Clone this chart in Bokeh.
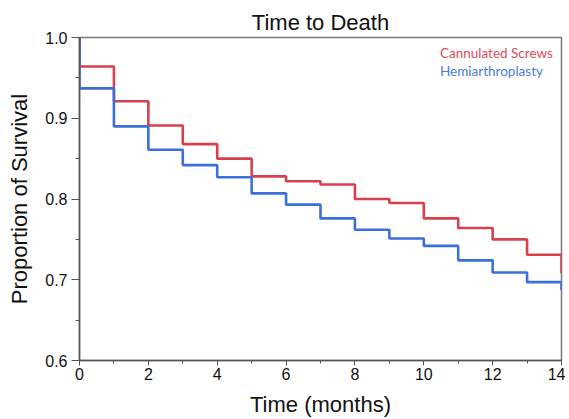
from bokeh.plotting import figure
from bokeh.models import Range1d, SingleIntervalTicker, PrintfTickFormatter, Label
from bokeh.embed import file_html
from bokeh.resources import INLINE

months = [0, 0, 1, 2, 3, 4, 5, 6, 7, 8, 9, 10, 11, 12, 13, 14]
screws = [1.0, 0.964, 0.921, 0.891, 0.868, 0.850, 0.828, 0.822, 0.818, 0.800, 0.795, 0.776, 0.764, 0.750, 0.731, 0.708]
hemi = [1.0, 0.937, 0.890, 0.861, 0.842, 0.827, 0.807, 0.793, 0.776, 0.762, 0.751, 0.742, 0.724, 0.709, 0.697, 0.687]
series_names = ["Cannulated Screws", "Hemiarthroplasty"]

RED = "#D8404E"
BLUE = "#3B6FDB"

p = figure(width=565, height=419, output_backend="svg", toolbar_location=None,
           x_range=Range1d(0, 14), y_range=Range1d(0.6, 1.0),
           min_border_left=79, min_border_right=4, min_border_top=37, min_border_bottom=59,
           title="Time to Death")
p.title.align = "center"
p.title.text_font = "Liberation Sans"
p.title.text_font_size = "22px"
p.title.text_font_style = "normal"
p.title.text_color = "#111111"
p.title.standoff = 6

p.xgrid.visible = False
p.ygrid.visible = False
p.outline_line_color = "#777777"
p.outline_line_width = 1.5

p.step(months, screws, mode="after", line_color=RED, line_width=2.6)
p.step(months, hemi, mode="after", line_color=BLUE, line_width=2.6)

p.xaxis.ticker = SingleIntervalTicker(interval=2, num_minor_ticks=2)
p.yaxis.ticker = SingleIntervalTicker(interval=0.1, num_minor_ticks=2)
p.yaxis.formatter = PrintfTickFormatter(format="%.1f")

for ax in (p.xaxis[0], p.yaxis[0]):
    ax.axis_line_color = "#555555"
    ax.axis_line_width = 1.5
    ax.major_tick_line_color = "#555555"
    ax.minor_tick_line_color = "#555555"
    ax.major_tick_in = 0
    ax.minor_tick_in = 0
    ax.major_label_text_font = "Liberation Sans"
    ax.major_label_text_font_size = "16px"
    ax.major_label_text_color = "#111111"
    ax.axis_label_text_font = "Liberation Sans"
    ax.axis_label_text_font_size = "22px"
    ax.axis_label_text_font_style = "normal"
    ax.axis_label_text_color = "#111111"

p.xaxis.major_tick_out = 5
p.xaxis.minor_tick_out = 3
p.yaxis.major_tick_out = 8
p.yaxis.minor_tick_out = 4

p.xaxis.axis_label = "Time (months)"
p.yaxis.axis_label = "Proportion of Survival"
p.xaxis.major_label_standoff = 2
p.yaxis.major_label_standoff = 4
p.xaxis.axis_label_standoff = 9
p.yaxis.axis_label_standoff = 10

p.add_layout(Label(x=10.47, y=0.981, text=series_names[0], text_color="#E04C58",
                   text_font="Lato", text_font_size="13.5px", text_baseline="middle"))
p.add_layout(Label(x=10.47, y=0.959, text=series_names[1], text_color="#4A7BE0",
                   text_font="Lato", text_font_size="13.5px", text_baseline="middle"))

open("out.html", "w").write(file_html(p, INLINE))
